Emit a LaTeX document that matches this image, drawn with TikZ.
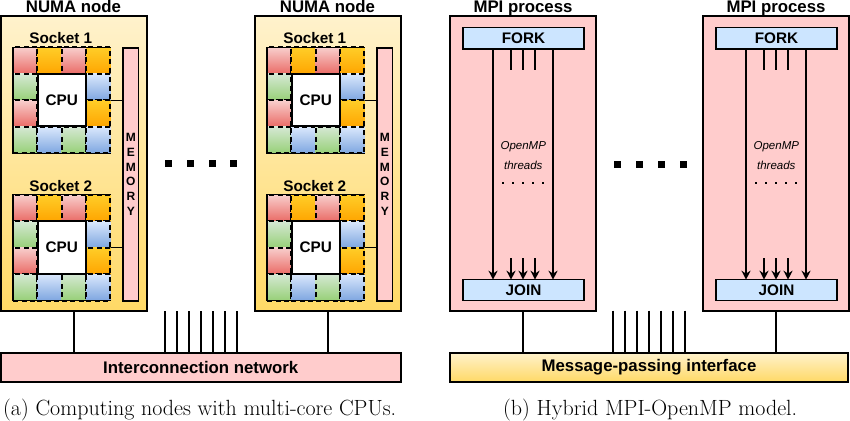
\documentclass[tikz,border=0pt]{standalone}
\usepackage{fontspec}
\setsansfont{Liberation Sans}
\usetikzlibrary{arrows.meta}
\definecolor{cellR}{HTML}{F8CECC}\definecolor{cellRb}{HTML}{EA6B66}
\definecolor{cellO}{HTML}{FFCD28}\definecolor{cellOb}{HTML}{FFA500}
\definecolor{cellG}{HTML}{D5E8D4}\definecolor{cellGb}{HTML}{97D077}
\definecolor{cellB}{HTML}{DAE8FC}\definecolor{cellBb}{HTML}{7EA6E0}
\definecolor{goldT}{HTML}{FFF2CC}\definecolor{goldB}{HTML}{FFD966}
\definecolor{pinkF}{HTML}{FFCCCC}\definecolor{blueF}{HTML}{CCE5FF}
\tikzset{
  bx/.style={draw=black,inner sep=0pt,outer sep=0pt,font=\sffamily},
  goldbox/.style={bx,line width=2pt,top color=goldT,bottom color=goldB},
  pinkbox/.style={bx,line width=2pt,fill=pinkF},
  mem/.style={bx,line width=1.2pt,fill=pinkF,align=center,font=\sffamily\bfseries\fontsize{12}{14.7}\selectfont},
  sockbox/.style={bx,line width=1.2pt,fill=white},
  cpu/.style={bx,line width=2pt,fill=white,font=\sffamily\bfseries\fontsize{15.3}{17}\selectfont},
  cell/.style={bx,line width=2pt,dash pattern=on 5pt off 3.5pt},
  cR/.style={cell,top color=cellR,bottom color=cellRb},
  cO/.style={cell,top color=cellO,bottom color=cellOb},
  cG/.style={cell,top color=cellG,bottom color=cellGb},
  cB/.style={cell,top color=cellB,bottom color=cellBb},
  title/.style={font=\sffamily\bfseries\fontsize{16.8}{18}\selectfont,inner sep=0pt,anchor=base},
  sublabel/.style={font=\sffamily\bfseries\fontsize{15.3}{17}\selectfont,inner sep=0pt,anchor=base},
  fj/.style={bx,line width=1.2pt,fill=blueF,font=\sffamily\bfseries\fontsize{15.3}{17}\selectfont},
  wire/.style={line width=1.8pt,draw=black},
  thin wire/.style={line width=1pt,draw=black},
  flow/.style={line width=1.8pt,draw=black,-{Stealth[length=9pt,width=9pt]}},
  bar/.style={bx,line width=2pt,font=\sffamily\bfseries\fontsize{16.8}{18}\selectfont},
  dotsq/.style={fill=black,inner sep=0pt,minimum size=7pt,outer sep=0pt},
  tinydot/.style={fill=black,inner sep=0pt,minimum size=2pt},
  omp/.style={font=\sffamily\itshape\fontsize{11.5}{13}\selectfont,inner sep=0pt},
  captxt/.style={font=\rmfamily\fontsize{22}{24}\selectfont,inner sep=0pt,anchor=base west},
}
% box from corners: name, style, x0, y0, x1, y1, text
\newcommand{\bxat}[7]{%
  \pgfmathsetmacro{\bxw}{(#5)-(#3)}\pgfmathsetmacro{\bxh}{(#6)-(#4)}%
  \pgfmathsetmacro{\bxx}{((#3)+(#5))/2}\pgfmathsetmacro{\bxy}{((#4)+(#6))/2}%
  \node[#2,minimum width=\bxw pt,minimum height=\bxh pt] (#1) at (\bxx,\bxy) {#7};}
% socket: prefix, x offset, y top
\newcommand{\socketat}[4]{%
  \node[sublabel] (#1lab) at (#2+60.8,#3-3.7) {#4};
  \bxat{#1s}{sockbox}{#2+13}{#3}{#2+110.5}{#3+105.8}{}
  \foreach \cx/\cy/\cs/\cn in {0/0/cR/a,1/0/cO/b,2/0/cR/c,3/0/cO/d,
    0/1/cG/e,3/1/cB/f,0/2/cR/g,3/2/cO/h,
    0/3/cG/i,1/3/cB/j,2/3/cG/k,3/3/cB/l}{
    \bxat{#1\cn}{\cs}{#2+13+24.37*\cx}{#3+26.45*\cy}{#2+13+24.37*\cx+24.37}{#3+26.45*\cy+26.45}{}
  }
  \draw[line width=1.3pt,line cap=square] (#1s.south east) -- (#1s.south west) -- (#1s.north west) -- (#1s.north east);
  \bxat{#1cpu}{cpu}{#2+37.5}{#3+26.3}{#2+86}{#3+78.7}{CPU}
}
\newcommand{\numa}[2]{%
  \bxat{#1}{goldbox}{#2+1}{16}{#2+147}{311}{}
  \node[title] (#1title) at (#2+73.5,12.5) {NUMA node};
  \socketat{#1A}{#2}{47.5}{Socket 1}
  \socketat{#1B}{#2}{194.8}{Socket 2}
  \bxat{#1mem}{mem}{#2+123}{48}{#2+138.8}{301}{M\\E\\M\\O\\R\\Y}
  \draw[thin wire] (#1As.east |- #1Acpu.center) -- (#1mem.west |- #1Acpu.center);
  \draw[thin wire] (#1Bs.east |- #1Bcpu.center) -- (#1mem.west |- #1Bcpu.center);
}
\newcommand{\mpi}[2]{%
  \bxat{#1}{pinkbox}{#2+0}{16}{#2+145.5}{310.5}{}
  \node[title] (#1title) at (#2+73,13) {MPI process};
  \bxat{#1fork}{fj}{#2+13}{27.5}{#2+134}{49}{FORK}
  \bxat{#1join}{fj}{#2+13}{279.7}{#2+134}{300.7}{JOIN}
  \foreach \ax in {43,103}{
    \coordinate (#1c) at (#2+\ax,100);
    \draw[flow] (#1fork.south -| #1c) -- (#1join.north -| #1c);
  }
  \foreach \ax in {61,73,85}{
    \coordinate (#1t) at (#2+\ax,69.5);
    \coordinate (#1u) at (#2+\ax,258);
    \draw[wire] (#1fork.south -| #1t) -- (#1t);
    \draw[flow] (#1u) -- (#1join.north -| #1u);
  }
  \node[omp] (#1omp) at (#2+73.3,147) {OpenMP};
  \node[omp] (#1thr) at (#2+73.3,165) {threads};
  \foreach \dx in {-20,-10,0,10,20}{
    \node[tinydot] at (#2+73.3+\dx,183) {};
  }
}
\begin{document}
\begin{tikzpicture}[x=1pt,y=-1pt]
\useasboundingbox (0,0) rectangle (850,420);
\numa{na}{0}
\numa{nb}{254}
\bxat{net}{bar,fill=pinkF}{1}{352.5}{400.5}{382}{Interconnection network}
\draw[wire] (na.south) -- (na.south |- net.north);
\draw[wire] (nb.south) -- (nb.south |- net.north);
\foreach \i/\rx in {1/165,2/177,3/189,4/201,5/213,6/225,7/237}{
  \coordinate (ra\i) at (\rx,311);
  \draw[wire] (ra\i) -- (ra\i |- net.north);
}
\foreach \i/\qx in {1/168.3,2/190,3/212,4/233.7}{
  \node[dotsq] (da\i) at (\qx,163.5) {};
}
\mpi{pa}{450}
\mpi{pb}{703}
\bxat{mp}{bar,top color=goldT,bottom color=goldB}{450}{352.5}{848}{382}{Message-passing interface}
\draw[wire] (pa.south) -- (pa.south |- mp.north);
\draw[wire] (pb.south) -- (pb.south |- mp.north);
\foreach \i/\rx in {1/613,2/625,3/637,4/649,5/661,6/673,7/685}{
  \coordinate (rb\i) at (\rx,310.5);
  \draw[wire] (rb\i) -- (rb\i |- mp.north);
}
\foreach \i/\qx in {1/617,2/639,3/661,4/683}{
  \node[dotsq] (db\i) at (\qx,164) {};
}
\node[captxt] (capa) at (3,415) {(a) Computing nodes with multi-core CPUs.};
\node[captxt] (capb) at (503,415) {(b) Hybrid MPI-OpenMP model.};
\end{tikzpicture}
\end{document}
